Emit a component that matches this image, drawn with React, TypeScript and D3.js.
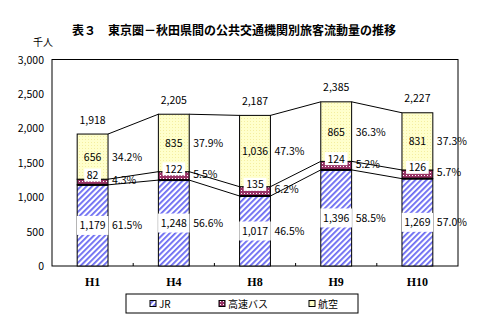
import React from "react";
import * as d3 from "d3";

const categories = ["H1", "H4", "H8", "H9", "H10"];
const jrValues = [1179, 1248, 1017, 1396, 1269];
const busValues = [82, 122, 135, 124, 126];
const airValues = [656, 835, 1036, 865, 831];
const totalLabels = ["1,918", "2,205", "2,187", "2,385", "2,227"];
const jrPct = ["61.5%", "56.6%", "46.5%", "58.5%", "57.0%"];
const busPct = ["4.3%", "5.5%", "6.2%", "5.2%", "5.7%"];
const airPct = ["34.2%", "37.9%", "47.3%", "36.3%", "37.3%"];
const yTicks = [0, 500, 1000, 1500, 2000, 2500, 3000];
const seriesNames = ["JR", "高速バス", "航空"];

const W = 490;
const H = 336;
const left = 52;
const right = 458;
const top = 59.5;
const bottom = 266;

const numFont = "'MS PGothic','Noto Sans CJK JP',sans-serif";
const fmt = d3.format(",");

function textW(s: string, size: number) {
  let w = 0;
  for (const c of s) {
    if (c === "," || c === ".") w += 0.28 * size;
    else if (c === "%") w += 0.8 * size;
    else w += 0.56 * size;
  }
  return w;
}

export default function App() {
  const x = d3
    .scaleBand<string>()
    .domain(categories)
    .range([left, right])
    .paddingInner(0.62)
    .paddingOuter(0.31);
  const y = d3.scaleLinear().domain([0, 3000]).range([bottom, top]);
  const bw = x.bandwidth();
  const step = x.step();

  const data = categories.map((c, i) => {
    const j = jrValues[i];
    const b = busValues[i];
    const a = airValues[i];
    return { c, i, j, b, a, l1: j, l2: j + b, l3: j + b + a };
  });

  const fs = 10.5;

  return (
    <svg
      width={W}
      height={H}
      style={{ position: "absolute", left: 0, top: 0, background: "#fff" }}
    >
      <defs>
        <pattern id="pJR" width="4" height="4" patternUnits="userSpaceOnUse" patternTransform="rotate(45)">
          <rect width="4" height="4" fill="#ffffff" />
          <rect x="0" y="0" width="1.8" height="4" fill="#6a6af2" />
        </pattern>
        <pattern id="pBus" width="3" height="3" patternUnits="userSpaceOnUse">
          <rect width="3" height="3" fill="#993366" />
          <rect x="1" y="1" width="1" height="1" fill="#ffffff" />
        </pattern>
        <pattern id="pAir" width="3" height="3" patternUnits="userSpaceOnUse">
          <rect width="3" height="3" fill="#ffffcc" />
          <rect x="1" y="1" width="1" height="1" fill="#f4eea0" />
        </pattern>
      </defs>

      <rect x={0} y={0} width={W} height={H} fill="#fff" />

      {/* title */}
      <text
        x={72}
        y={35}
        fontFamily="'Noto Sans CJK JP',sans-serif"
        fontWeight="bold"
        fontSize={12}
        fill="#000"
      >
        表３　東京圏－秋田県間の公共交通機関別旅客流動量の推移
      </text>
      <text x={33} y={46} fontFamily={numFont} fontSize={10} fill="#000">
        千人
      </text>

      {/* plot frame */}
      <rect x={left} y={top} width={right - left} height={bottom - top} fill="#fff" stroke="#000" strokeWidth={1} />

      {/* y tick labels */}
      {yTicks.map((t) => (
        <text
          key={t}
          x={44}
          y={y(t) + 4}
          textAnchor="end"
          fontFamily={numFont}
          fontSize={fs}
          fill="#000"
        >
          {fmt(t)}
        </text>
      ))}

      {/* x ticks */}
      {categories.slice(1).map((c) => (
        <line
          key={c}
          x1={(x(c) as number) - (step - bw) / 2}
          x2={(x(c) as number) - (step - bw) / 2}
          y1={bottom}
          y2={bottom - 3}
          stroke="#000"
        />
      ))}

      {/* series lines */}
      {data.slice(0, -1).map((d, i) => {
        const n = data[i + 1];
        const x1 = (x(d.c) as number) + bw;
        const x2 = x(n.c) as number;
        return (
          <g key={"sl" + i}>
            {[
              [d.l1, n.l1],
              [d.l2, n.l2],
              [d.l3, n.l3],
            ].map(([a, b], k) => (
              <line key={k} x1={x1} x2={x2} y1={y(a)} y2={y(b)} stroke="#000" strokeWidth={1} />
            ))}
          </g>
        );
      })}

      {/* bars */}
      {data.map((d) => {
        const bx = x(d.c) as number;
        return (
          <g key={d.c}>
            <rect x={bx} y={y(d.l1)} width={bw} height={y(0) - y(d.l1)} fill="url(#pJR)" stroke="#000" strokeWidth={1} />
            <rect x={bx} y={y(d.l2)} width={bw} height={y(d.l1) - y(d.l2)} fill="url(#pBus)" stroke="#000" strokeWidth={1} />
            <rect x={bx} y={y(d.l3)} width={bw} height={y(d.l2) - y(d.l3)} fill="url(#pAir)" stroke="#000" strokeWidth={1} />
            <line x1={bx} x2={bx + bw} y1={y(d.l1)} y2={y(d.l1)} stroke="#000" strokeWidth={2} />
          </g>
        );
      })}

      {/* labels */}
      {data.map((d) => {
        const bx = x(d.c) as number;
        const cx = bx + bw / 2;
        const jrY = y(d.j / 2);
        const busMid = y(d.l1 + d.b / 2);
        const busLabelY = busMid - 7;
        const airY = y(d.l2 + d.a / 2);
        const jrTxt = fmt(d.j);
        const busTxt = fmt(d.b);
        const jw = textW(jrTxt, fs) + 5;
        const bwid = textW(busTxt, fs) + 5;
        const px = bx + bw + 4;
        return (
          <g key={"lab" + d.c} fontFamily={numFont} fontSize={fs} fill="#000">
            <rect x={cx - jw / 2} y={jrY - 9.5} width={jw} height={19} fill="#fff" />
            <text x={cx} y={jrY + 4} textAnchor="middle">{jrTxt}</text>
            <rect x={cx - bwid / 2} y={busLabelY - 6.5} width={bwid} height={13} fill="#fff" />
            <text x={cx} y={busLabelY + 4} textAnchor="middle">{busTxt}</text>
            <text x={cx} y={airY + 4} textAnchor="middle">{fmt(d.a)}</text>
            <text x={cx} y={y(d.l3) - 14.5 + 4} textAnchor="middle">{totalLabels[d.i]}</text>
            <text x={px} y={jrY + 4}>{jrPct[d.i]}</text>
            <text x={px} y={busMid - 2 + 4}>{busPct[d.i]}</text>
            <text x={px} y={airY + 4}>{airPct[d.i]}</text>
          </g>
        );
      })}

      {/* x labels */}
      {categories.map((c) => (
        <text
          key={"xl" + c}
          x={(x(c) as number) + bw / 2}
          y={286}
          textAnchor="middle"
          fontFamily="'Liberation Serif',serif"
          fontWeight="bold"
          fontSize={12}
          fill="#000"
        >
          {c}
        </text>
      ))}

      {/* legend */}
      <rect x={126} y={294} width={232} height={19} fill="#fff" stroke="#000" strokeWidth={1} />
      {seriesNames.map((s, i) => {
        const lx = [150, 219, 309][i];
        const fill = ["url(#pJR)", "url(#pBus)", "url(#pAir)"][i];
        return (
          <g key={s}>
            <rect x={lx} y={300.5} width={6} height={6} fill={fill} stroke="#000" strokeWidth={1} />
            <text x={lx + 9} y={307.5} fontFamily={numFont} fontSize={10} fill="#000">
              {s}
            </text>
          </g>
        );
      })}
    </svg>
  );
}
